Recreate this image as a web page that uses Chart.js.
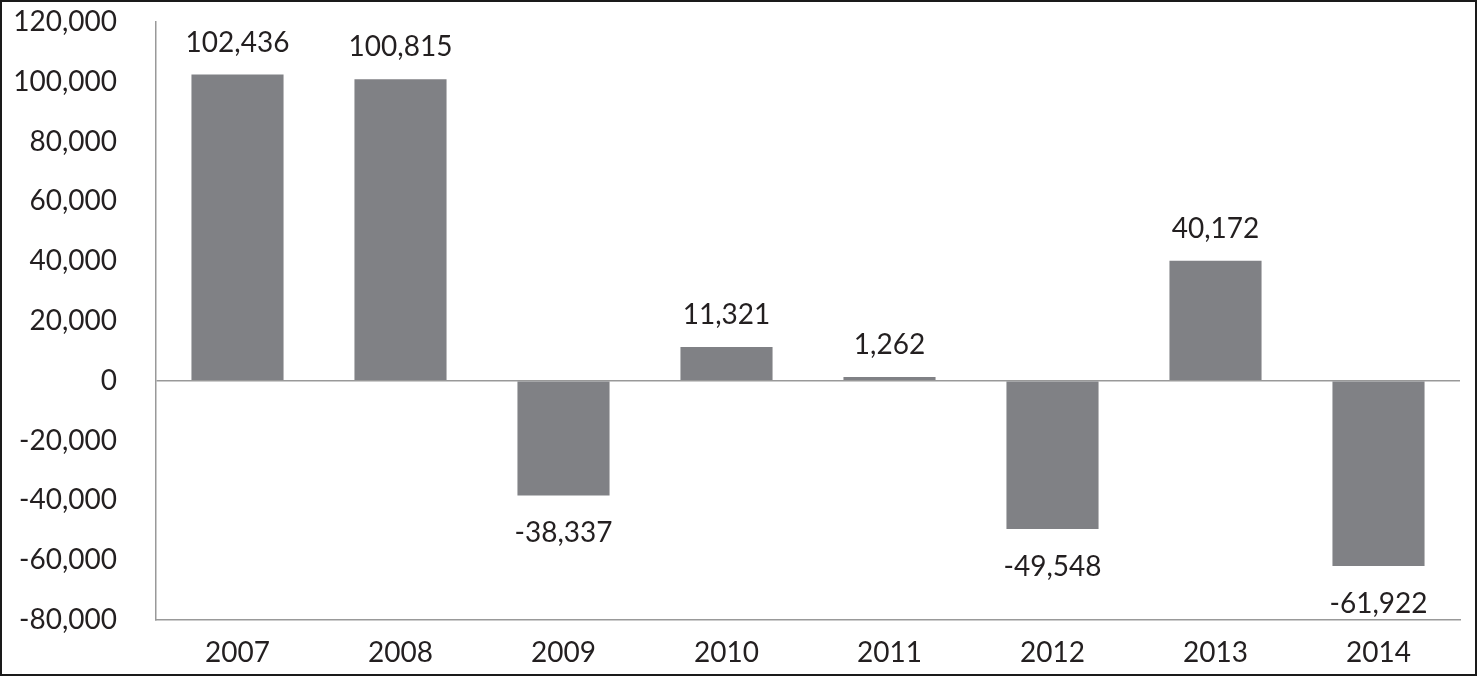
<!DOCTYPE html>
<html>
<head>
<meta charset="utf-8">
<script src="https://cdn.jsdelivr.net/npm/chart.js@4"></script>
<style>
  html, body { margin: 0; padding: 0; background: #fff; }
  .wrap { position: relative; width: 1477px; height: 676px; }
  .frame { position: absolute; left: 0; top: 0; width: 1477px; height: 676px;
           box-sizing: border-box; border: 2px solid #1a1a1a; pointer-events: none; }
</style>
</head>
<body>
<div class="wrap">
  <canvas id="barChart" width="1477" height="676"></canvas>
  <div class="frame"></div>
</div>
<script>
const years = ['2007', '2008', '2009', '2010', '2011', '2012', '2013', '2014'];
const values = [102436, 100815, -38337, 11321, 1262, -49548, 40172, -61922];
const yMin = -80000;
const yMax = 120000;
const yStep = 20000;

const fmt = v => v.toLocaleString('en-US');

// value labels above / below each bar
const barLabels = {
  id: 'barLabels',
  afterDatasetsDraw(chart) {
    const ctx = chart.ctx;
    const meta = chart.getDatasetMeta(0);
    ctx.save();
    ctx.font = '28px Lato';
    ctx.fillStyle = '#231f20';
    ctx.textAlign = 'center';
    ctx.textBaseline = 'alphabetic';
    meta.data.forEach((bar, i) => {
      const v = values[i];
      const y = v >= 0 ? bar.y - 23 : bar.y + 47;
      ctx.fillText(fmt(v), bar.x, y);
    });
    ctx.restore();
  }
};

const ctx = document.getElementById('barChart').getContext('2d');
new Chart(ctx, {
  type: 'bar',
  data: {
    labels: years,
    datasets: [{
      data: values,
      backgroundColor: '#808185',
      barPercentage: 0.565,
      categoryPercentage: 1.0
    }]
  },
  options: {
    responsive: false,
    animation: false,
    layout: { padding: { top: 22, right: 17, bottom: 0, left: 0 } },
    plugins: {
      legend: { display: false },
      tooltip: { enabled: false }
    },
    scales: {
      x: {
        grid: { display: false },
        border: { display: true, color: '#999999', width: 1.5 },
        ticks: {
          color: '#231f20',
          font: { family: 'Lato', size: 28 },
          padding: 8
        },
        afterFit: scale => {
          scale.height = 56;
          scale.paddingLeft = 0;
          scale.paddingRight = 0;
        }
      },
      y: {
        min: yMin,
        max: yMax,
        grid: {
          drawTicks: false,
          color: c => c.tick && c.tick.value === 0 ? '#999999' : 'rgba(0,0,0,0)',
          lineWidth: 1.5
        },
        border: { display: true, color: '#999999', width: 1.5 },
        ticks: {
          stepSize: yStep,
          color: '#231f20',
          font: { family: 'Lato', size: 28 },
          padding: 39,
          callback: value => fmt(value)
        },
        afterFit: scale => {
          scale.width = 156;
          scale.paddingTop = 0;
          scale.paddingBottom = 0;
        }
      }
    }
  },
  plugins: [barLabels]
});
</script>
</body>
</html>
